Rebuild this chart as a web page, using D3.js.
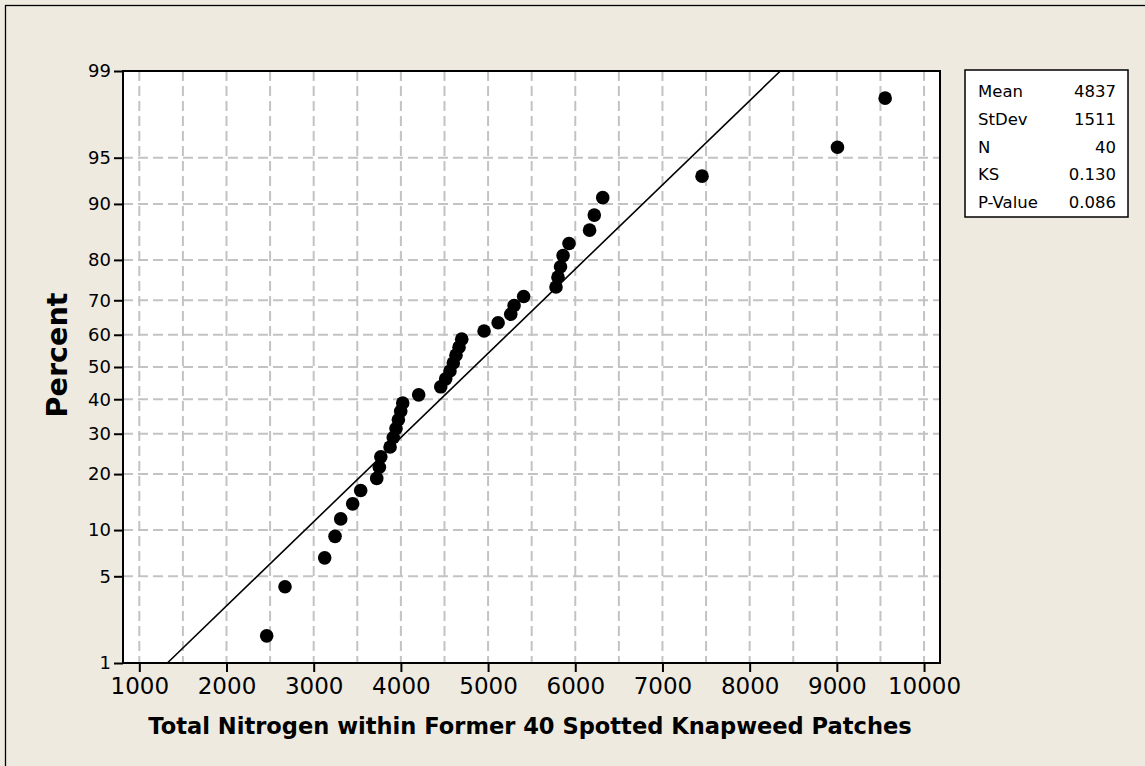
<!DOCTYPE html>
<html>
<head>
<meta charset="utf-8">
<script src="https://cdn.jsdelivr.net/npm/d3@7"></script>
<style>
  html, body { margin: 0; padding: 0; background: #EEEAE0; }
  svg { display: block; }
  text { font-family: Tahoma, "DejaVu Sans", "Liberation Sans", sans-serif; fill: #000; }
</style>
</head>
<body>
<svg id="chart" width="1145" height="766"></svg>
<script>
// ---------------- data ----------------
const nitrogen = [2461, 2671, 3126, 3245, 3310, 3447, 3539, 3723, 3753, 3770,
                  3876, 3913, 3944, 3971, 3998, 4021, 4204, 4457, 4514, 4563,
                  4601, 4632, 4667, 4698, 4954, 5115, 5260, 5298, 5408, 5779,
                  5802, 5831, 5860, 5928, 6164, 6218, 6315, 7454, 9007, 9554];
const percent = [1.73, 4.21, 6.68, 9.16, 11.63, 14.11, 16.58, 19.06, 21.53, 24.01,
                 26.49, 28.96, 31.44, 33.91, 36.39, 38.86, 41.34, 43.81, 46.29, 48.76,
                 51.24, 53.71, 56.19, 58.66, 61.14, 63.61, 66.09, 68.56, 71.04, 73.51,
                 75.99, 78.47, 80.94, 83.42, 85.89, 88.37, 90.84, 93.32, 95.79, 98.27];
const yTicks = [1, 5, 10, 20, 30, 40, 50, 60, 70, 80, 90, 95, 99];
const xTicks = [1000, 2000, 3000, 4000, 5000, 6000, 7000, 8000, 9000, 10000];
const statLabels = ["Mean", "StDev", "N", "KS", "P-Value"];
const statValues = ["4837", "1511", "40", "0.130", "0.086"];
const fitMean = 4837, fitSd = 1511;
const xTitle = "Total Nitrogen within Former 40 Spotted Knapweed Patches";
const yTitle = "Percent";

// ------------- helpers -------------
// inverse standard normal CDF (Acklam)
function probit(p) {
  const a = [-3.969683028665376e+01, 2.209460984245205e+02, -2.759285104469687e+02,
             1.383577518672690e+02, -3.066479806614716e+01, 2.506628277459239e+00];
  const b = [-5.447609879822406e+01, 1.615858368580409e+02, -1.556989798598866e+02,
             6.680131188771972e+01, -1.328068155288572e+01];
  const c = [-7.784894002430293e-03, -3.223964580411365e-01, -2.400758277161838e+00,
             -2.549671010115819e+00, 4.374664141464968e+00, 2.938163982698783e+00];
  const d = [7.784695709041462e-03, 3.224671290700398e-01, 2.445134137142996e+00,
             3.754408661907416e+00];
  const pl = 0.02425, ph = 1 - pl;
  let q, r;
  if (p < pl) {
    q = Math.sqrt(-2 * Math.log(p));
    return (((((c[0]*q+c[1])*q+c[2])*q+c[3])*q+c[4])*q+c[5]) / ((((d[0]*q+d[1])*q+d[2])*q+d[3])*q+1);
  } else if (p <= ph) {
    q = p - 0.5; r = q*q;
    return (((((a[0]*r+a[1])*r+a[2])*r+a[3])*r+a[4])*r+a[5])*q / (((((b[0]*r+b[1])*r+b[2])*r+b[3])*r+b[4])*r+1);
  } else {
    q = Math.sqrt(-2 * Math.log(1 - p));
    return -(((((c[0]*q+c[1])*q+c[2])*q+c[3])*q+c[4])*q+c[5]) / ((((d[0]*q+d[1])*q+d[2])*q+d[3])*q+1);
  }
}

// ------------- layout -------------
const L = 123, R = 940, T = 71, B = 663;
const svg = d3.select("#chart");

// outer frame
svg.append("rect").attr("x", 5.5).attr("y", 5.5).attr("width", 1160).attr("height", 780)
  .attr("fill", "#EEEAE0").attr("stroke", "#000").attr("stroke-width", 1.3);

const x = d3.scaleLinear().domain([813, 10183]).range([L, R]);
const zScale = d3.scaleLinear().domain([probit(0.01), probit(0.99)]).range([B, T]);
const y = p => zScale(probit(p / 100));

// plot area
svg.append("rect").attr("x", L).attr("y", T).attr("width", R - L).attr("height", B - T)
  .attr("fill", "#fff");

// gridlines
const grid = svg.append("g").attr("stroke", "#c3c3c3").attr("stroke-width", 2)
  .attr("stroke-dasharray", "10,5");
grid.selectAll("line.v").data(d3.range(1000, 10001, 500)).join("line").attr("class", "v")
  .attr("x1", d => x(d)).attr("x2", d => x(d)).attr("y1", T).attr("y2", B);
grid.selectAll("line.h").data(yTicks.slice(1, -1)).join("line").attr("class", "h")
  .attr("x1", L).attr("x2", R).attr("y1", d => y(d)).attr("y2", d => y(d));

// fitted line
const zLo = probit(0.01), zHi = probit(0.99);
svg.append("line")
  .attr("x1", x(fitMean + zLo * fitSd)).attr("y1", zScale(zLo))
  .attr("x2", x(fitMean + zHi * fitSd)).attr("y2", zScale(zHi))
  .attr("stroke", "#000").attr("stroke-width", 1.6);

// points
svg.append("g").selectAll("circle").data(nitrogen).join("circle")
  .attr("cx", d => x(d)).attr("cy", (d, i) => y(percent[i])).attr("r", 6.8)
  .attr("fill", "#000");

// frame
svg.append("rect").attr("x", L).attr("y", T).attr("width", R - L).attr("height", B - T)
  .attr("fill", "none").attr("stroke", "#000").attr("stroke-width", 2);

// axes
const yAxis = d3.axisLeft(zScale)
  .tickValues(yTicks.map(p => probit(p / 100)))
  .tickFormat((d, i) => yTicks[i]).tickSize(9).tickPadding(3);
const gy = svg.append("g").attr("transform", `translate(${L},0)`).call(yAxis);
gy.select(".domain").remove();
gy.selectAll("line").attr("stroke", "#000").attr("stroke-width", 2);
gy.selectAll("text").attr("font-size", 18).attr("font-family", "Tahoma, 'DejaVu Sans', sans-serif");

const xAxis = d3.axisBottom(x).tickValues(xTicks).tickFormat(d => d).tickSize(9).tickPadding(6);
const gx = svg.append("g").attr("transform", `translate(0,${B})`).call(xAxis);
gx.select(".domain").remove();
gx.selectAll("line").attr("stroke", "#000").attr("stroke-width", 2);
gx.selectAll("text").attr("font-size", 23).attr("font-family", "Tahoma, 'DejaVu Sans', sans-serif");

// titles
function fitWidth(sel, target) {
  const w = sel.node().getComputedTextLength();
  const fs = parseFloat(sel.attr("font-size"));
  sel.attr("font-size", fs * target / w);
}
const xt = svg.append("text").attr("x", 530).attr("y", 734).attr("text-anchor", "middle")
  .attr("font-weight", "bold").attr("font-size", 22).text(xTitle);
fitWidth(xt, 764);
const yt = svg.append("text").attr("transform", "translate(67,355) rotate(-90)")
  .attr("text-anchor", "middle").attr("font-weight", "bold").attr("font-size", 20).text(yTitle);
fitWidth(yt, 125);

// stats box
const box = svg.append("g");
box.append("rect").attr("x", 965).attr("y", 70).attr("width", 163).attr("height", 147)
  .attr("fill", "#fff").attr("stroke", "#000").attr("stroke-width", 1.5);
box.selectAll("text.lab").data(statLabels).join("text").attr("class", "lab")
  .attr("x", 978).attr("y", (d, i) => 97 + i * 27.8).attr("font-size", 16.5).text(d => d);
box.selectAll("text.val").data(statValues).join("text").attr("class", "val")
  .attr("x", 1116).attr("y", (d, i) => 97 + i * 27.8).attr("font-size", 16.5)
  .attr("text-anchor", "end").text(d => d);
</script>
</body>
</html>
